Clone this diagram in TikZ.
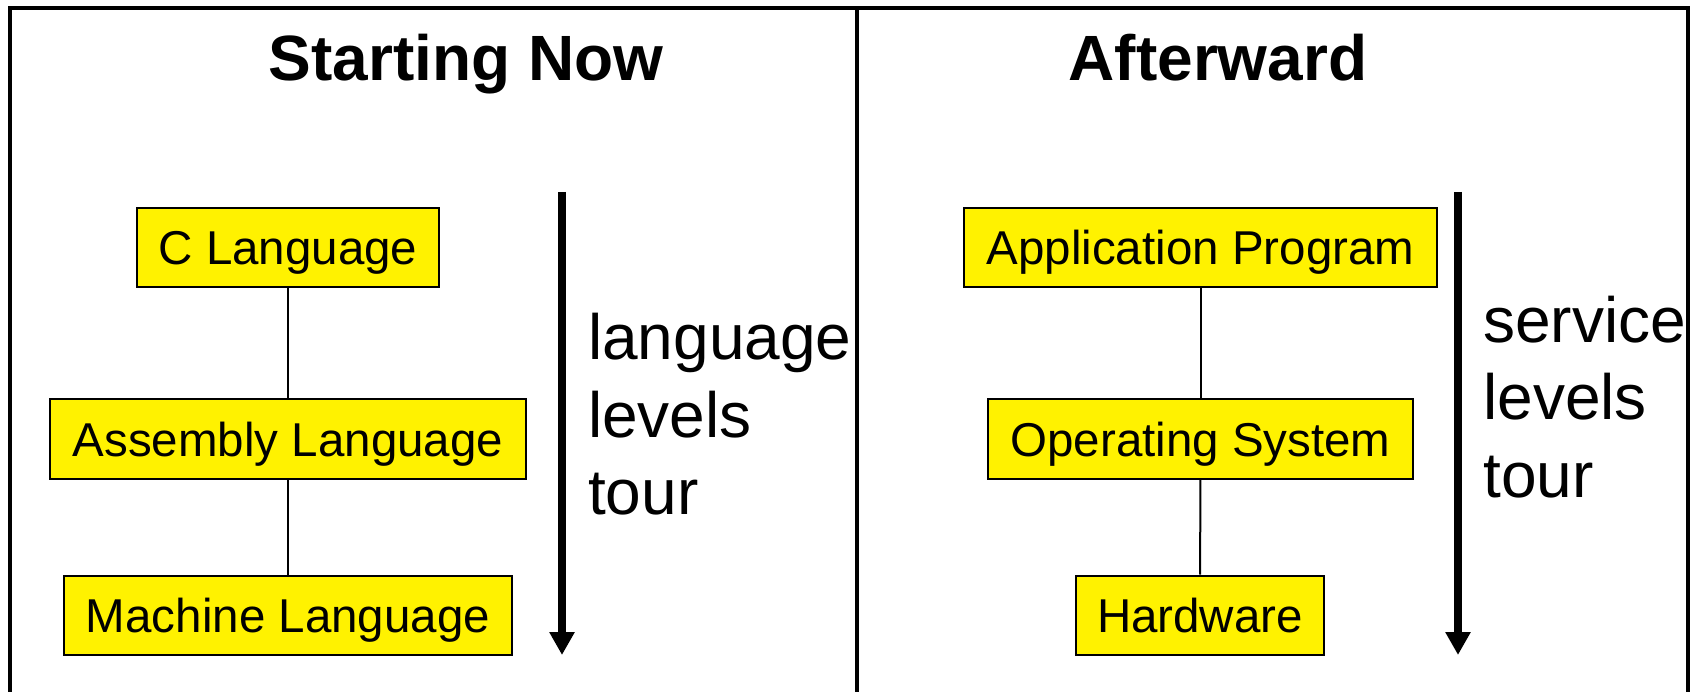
\documentclass[tikz,border=0pt]{standalone}
\usepackage{fontspec}
\setmainfont{Liberation Sans}
\usetikzlibrary{shapes,arrows.meta}

\begin{document}
\begin{tikzpicture}[x=1pt,y=-1pt,
  level/.style={shape=rectangle,draw=black,fill=yellow,line width=2pt,inner xsep=0pt,inner ysep=12pt,text height=45pt,text depth=10pt,font=\fontsize{47.5pt}{56pt}\selectfont},
  heading/.style={anchor=base,inner sep=0pt,font=\fontsize{64pt}{77pt}\selectfont\bfseries},
  tourtext/.style={anchor=base west,inner sep=0pt,font=\fontsize{64pt}{77pt}\selectfont}]
\useasboundingbox (0,0) rectangle (1700,692);
\draw[line width=4pt] (10,8) rectangle (1688,720);
\draw[line width=4pt] (857,8) -- (857,720);

\node[heading] (t0) at (466,81) {Starting Now};
\node[heading] (t1) at (1218,81) {Afterward};

\node[level,minimum width=302pt] (0) at (288,247.5) {C Language};
\node[level,minimum width=476pt] (1) at (288,439) {Assembly Language};
\node[level,minimum width=448pt] (2) at (288,615) {Machine Language};
\node[level,minimum width=473pt] (3) at (1200.5,247.5) {Application Program};
\node[level,minimum width=425pt] (4) at (1200.5,439) {Operating System};
\node[level,minimum width=248pt] (5) at (1200,615) {Hardware};

\path [-,draw=black,line width=2pt] (0) edge node {} (1);
\path [-,draw=black,line width=2pt] (1) edge node {} (2);
\path [-,draw=black,line width=2pt] (3) edge node {} (4);
\path [-,draw=black,line width=2pt] (4) edge node {} (5);

\coordinate (a0) at (562,192);
\coordinate (a1) at (562,655);
\coordinate (a2) at (1458,192);
\coordinate (a3) at (1458,655);
\draw[-{Triangle[width=24pt,length=23pt]},line width=8pt] (a0) -- (a1);
\draw[-{Triangle[width=24pt,length=23pt]},line width=8pt] (a2) -- (a3);

\node[tourtext] (l0) at (588,360) {language};
\node[tourtext] (l1) at (588,437) {levels};
\node[tourtext] (l2) at (588,514) {tour};
\node[tourtext] (s0) at (1483,343) {service};
\node[tourtext] (s1) at (1483,420) {levels};
\node[tourtext] (s2) at (1483,497) {tour};
\end{tikzpicture}
\end{document}
